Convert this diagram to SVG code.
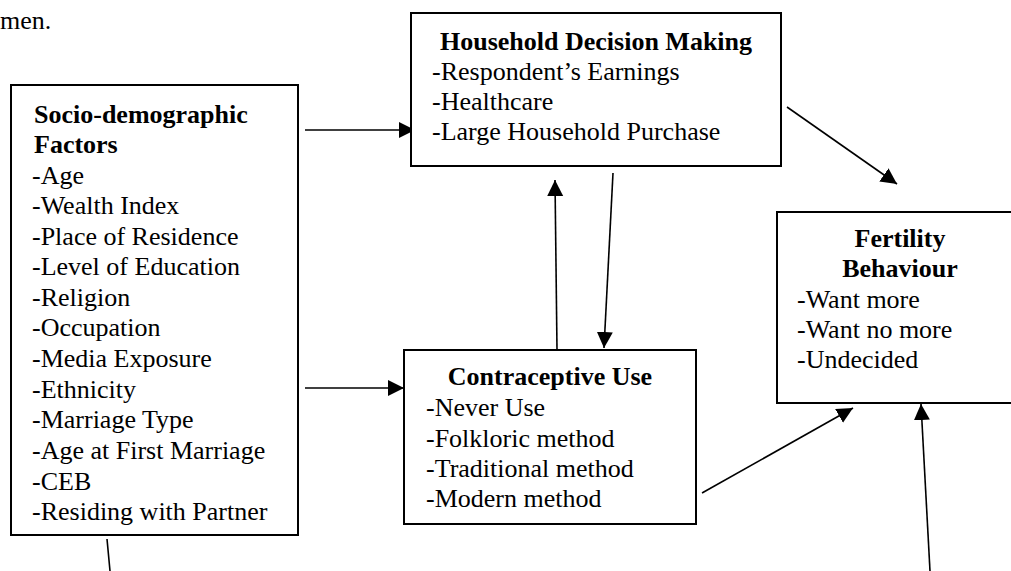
<svg xmlns="http://www.w3.org/2000/svg" width="1011" height="571" viewBox="0 0 1011 571">
<style>
text{font-family:"Liberation Serif","Times New Roman",serif;font-size:26px;fill:#000}
.b{font-weight:bold}
.c{text-anchor:middle}
.box{fill:#fff;stroke:#000;stroke-width:2}
.ln{stroke:#000;stroke-width:1.6;fill:none}
.ar{marker-end:url(#ah)}
</style>
<defs>
<marker id="ah" markerUnits="userSpaceOnUse" markerWidth="18" markerHeight="18" refX="16" refY="8" orient="auto">
<path d="M0,0 L16,8 L0,16 z" fill="#000"/>
</marker>
</defs>
<rect width="1011" height="571" fill="#fff"/>
<text x="0" y="29">men.</text>
<g id="connectors">
<line class="ln ar" x1="305" y1="130" x2="415" y2="130"/>
<line class="ln ar" x1="305" y1="388" x2="404" y2="388"/>
<line class="ln ar" x1="557" y1="350" x2="555" y2="180"/>
<line class="ln ar" x1="613" y1="173" x2="604" y2="348"/>
<line class="ln ar" x1="787" y1="107" x2="897" y2="184"/>
<line class="ln ar" x1="702" y1="493" x2="853" y2="408"/>
<line class="ln ar" x1="930" y1="571" x2="921" y2="404"/>
<line class="ln" x1="107" y1="539" x2="110" y2="571"/>
</g>
<g id="socio">
<rect class="box" x="11" y="85" width="287" height="450"/>
<text class="b" x="34" y="123">Socio-demographic</text>
<text class="b" x="34" y="153">Factors</text>
<text x="32" y="184">-Age</text>
<text x="32" y="214">-Wealth Index</text>
<text x="32" y="245">-Place of Residence</text>
<text x="32" y="275">-Level of Education</text>
<text x="32" y="306">-Religion</text>
<text x="32" y="336">-Occupation</text>
<text x="32" y="367">-Media Exposure</text>
<text x="32" y="398">-Ethnicity</text>
<text x="32" y="428">-Marriage Type</text>
<text x="32" y="459">-Age at First Marriage</text>
<text x="32" y="490">-CEB</text>
<text x="32" y="520">-Residing with Partner</text>
</g>
<g id="household">
<rect class="box" x="411" y="13" width="370" height="153"/>
<text class="b c" x="596" y="50">Household Decision Making</text>
<text x="432" y="80">-Respondent’s Earnings</text>
<text x="432" y="110">-Healthcare</text>
<text x="432" y="140">-Large Household Purchase</text>
</g>
<g id="contraceptive">
<rect class="box" x="404" y="350" width="292" height="174"/>
<text class="b c" x="550" y="385">Contraceptive Use</text>
<text x="426" y="416">-Never Use</text>
<text x="426" y="447">-Folkloric method</text>
<text x="426" y="477">-Traditional method</text>
<text x="426" y="507">-Modern method</text>
</g>
<g id="fertility">
<rect class="box" x="777" y="212" width="246" height="191"/>
<text class="b c" x="900" y="247">Fertility</text>
<text class="b c" x="900" y="277">Behaviour</text>
<text x="797" y="308">-Want more</text>
<text x="797" y="338">-Want no more</text>
<text x="797" y="368">-Undecided</text>
</g>
</svg>
